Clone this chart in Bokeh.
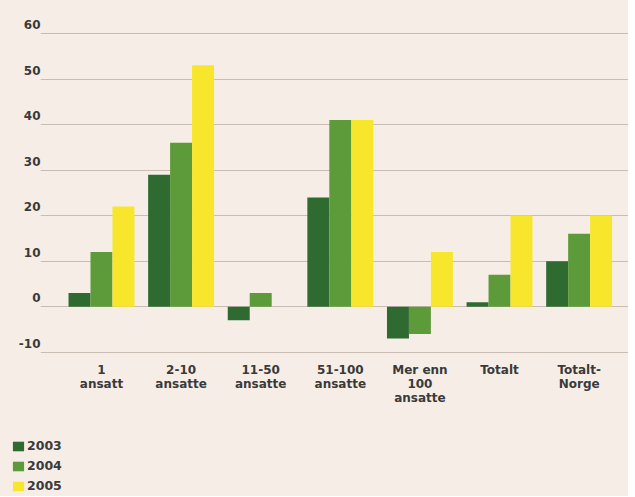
from bokeh.plotting import figure
from bokeh.layouts import column, row
from bokeh.models import ColumnDataSource, FixedTicker, Legend, LegendItem, Range1d
from bokeh.transform import dodge
from bokeh.embed import file_html
from bokeh.resources import INLINE

categories = ["1\nansatt", "2-10\nansatte", "11-50\nansatte", "51-100\nansatte",
              "Mer enn\n100\nansatte", "Totalt", "Totalt-\nNorge"]
years = ["2003", "2004", "2005"]
v2003 = [3, 29, -3, 24, -7, 1, 10]
v2004 = [12, 36, 3, 41, -6, 7, 16]
v2005 = [22, 53, 0, 41, 12, 20, 20]
y_ticks = [-10, 0, 10, 20, 30, 40, 50, 60]
colors = ["#2f6a30", "#5c9a3a", "#f8e62c"]

BG = "#f6eee6"
FONT = "DejaVu Sans"
TXT = "#3a3a3a"

xs = list(range(1, len(categories) + 1))
bw = 0.276
src = ColumnDataSource(dict(x=xs, v2003=v2003, v2004=v2004, v2005=v2005))

p = figure(frame_width=588, frame_height=354, output_backend="svg", toolbar_location=None,
           x_range=Range1d(0.234, 7.62), y_range=Range1d(-10.5, 67.24),
           min_border_left=40, min_border_top=0, min_border_right=0, min_border_bottom=0)
p.background_fill_color = BG
p.border_fill_color = BG
p.outline_line_color = None

renderers = []
for i, (yr, col) in enumerate(zip(years, colors)):
    r = p.vbar(x=dodge("x", (i - 1) * bw), top="v" + yr, bottom=0, width=bw, source=src,
               fill_color=col, line_color=None)
    renderers.append(r)

p.yaxis.ticker = FixedTicker(ticks=y_ticks)
p.ygrid.ticker = FixedTicker(ticks=y_ticks)
p.xgrid.grid_line_color = None
p.ygrid.grid_line_color = "#c9bcb3"
p.ygrid.grid_line_width = 1

for ax in (p.xaxis[0], p.yaxis[0]):
    ax.axis_line_color = None
    ax.major_tick_line_color = None
    ax.minor_tick_line_color = None
    ax.major_tick_out = 0
    ax.major_tick_in = 0
    ax.major_label_text_font = FONT
    ax.major_label_text_font_style = "bold"
    ax.major_label_text_font_size = "12px"
    ax.major_label_text_color = TXT

p.yaxis.major_label_standoff = 0
p.yaxis.major_label_overrides = {t: f"{t}\n" for t in y_ticks}
p.xaxis.ticker = FixedTicker(ticks=xs)
p.xaxis.major_label_overrides = {x: c for x, c in zip(xs, categories)}
p.xaxis.major_label_standoff = 8
p.xaxis.major_label_text_line_height = 1.0

# legend panel underneath (same data renderers, drawn off-range so only the legend shows)
p2 = figure(width=140, height=89, output_backend="svg", toolbar_location=None,
            x_range=Range1d(100, 101), y_range=Range1d(100, 101),
            x_axis_location=None, y_axis_location=None,
            min_border_left=0, min_border_top=0, min_border_right=0, min_border_bottom=0)
p2.background_fill_color = BG
p2.border_fill_color = BG
p2.outline_line_color = None
p2.grid.visible = False
r2 = []
for i, (yr, col) in enumerate(zip(years, colors)):
    r2.append(p2.vbar(x=dodge("x", (i - 1) * bw), top="v" + yr, bottom=0, width=bw, source=src,
                      fill_color=col, line_color=None))

legend = Legend(items=[LegendItem(label=yr, renderers=[r]) for yr, r in zip(years, r2)],
                orientation="vertical", location=(11, 3))
legend.background_fill_alpha = 0
legend.border_line_color = None
legend.label_text_font = FONT
legend.label_text_font_style = "bold"
legend.label_text_font_size = "12.5px"
legend.label_text_color = TXT
legend.glyph_width = 14
legend.glyph_height = 12
legend.label_height = 14
legend.spacing = 5
legend.padding = 0
legend.margin = 0
legend.label_standoff = 2
p2.add_layout(legend, "center")

layout = column(p, row(p2, styles={"background-color": BG}), spacing=0,
                styles={"background-color": BG})
open("out.html", "w").write(file_html(layout, INLINE))
